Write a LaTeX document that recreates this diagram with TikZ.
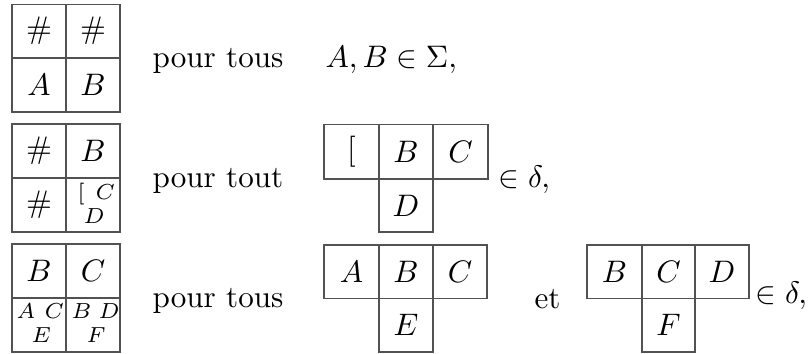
\documentclass[tikz,border=0pt]{standalone}
\begin{document}
\begin{tikzpicture}[x=0.3215pt,y=-0.3215pt,
  grid/.style={draw=black!68,line width=0.45pt},
  lab/.style={inner sep=0pt},
  txt/.style={inner sep=0pt,anchor=base west},
  sm/.style={inner sep=0pt,anchor=base west,font=\scriptsize}]
\useasboundingbox (0,0) rectangle (811,353);
% tile 1
\draw[grid] (12,4.5) rectangle (120,112);
\draw[grid] (66,4.5) -- (66,112) (12,58) -- (120,58);
\node[lab] (t1a) at (39,31) {$\#$};
\node[lab] (t1b) at (93,31) {$\#$};
\node[lab] (t1c) at (39,85) {$A$};
\node[lab] (t1d) at (93,85) {$B$};
\node[txt] (p1) at (152,67) {pour tous};
\node[txt] (m1) at (325,67) {$A,B \in \Sigma,$};
% tile 2
\draw[grid] (12,124) rectangle (120,232);
\draw[grid] (66,124) -- (66,232) (12,178) -- (120,178);
\node[lab] (t2a) at (39,151) {$\#$};
\node[lab] (t2b) at (93,151) {$B$};
\node[lab] (t2c) at (39,205) {$\#$};
\node[sm] (t2d) at (77,199) {$[$};
\node[sm] (t2e) at (95,199) {$C$};
\node[sm] (t2f) at (83,223) {$D$};
\node[txt] (p2) at (152,187) {pour tout};
\draw[grid] (324,124.5) rectangle (488,179);
\draw[grid] (379,124.5) -- (379,232) -- (433,232) -- (433,124.5);
\node[lab] (s2a) at (351.5,152) {$[$};
\node[lab] (s2b) at (406,152) {$B$};
\node[lab] (s2c) at (460.5,152) {$C$};
\node[lab] (s2d) at (406,205.5) {$D$};
\node[txt] (m2) at (498,187) {$\in \delta,$};
% tile 3
\draw[grid] (12,244) rectangle (120,352);
\draw[grid] (66,244) -- (66,352) (12,298) -- (120,298);
\node[lab] (t3a) at (39,271) {$B$};
\node[lab] (t3b) at (93,271) {$C$};
\node[sm] (t3c) at (16,318) {$A$};
\node[sm] (t3d) at (44,318) {$C$};
\node[sm] (t3e) at (31,342) {$E$};
\node[sm] (t3f) at (71,318) {$B$};
\node[sm] (t3g) at (98,318) {$D$};
\node[sm] (t3h) at (86,342) {$F$};
\node[txt] (p3) at (152,307) {pour tous};
\draw[grid] (324,245) rectangle (487,298.5);
\draw[grid] (379,245) -- (379,352) -- (433,352) -- (433,245);
\node[lab] (s3a) at (351.5,271.5) {$A$};
\node[lab] (s3b) at (406,271.5) {$B$};
\node[lab] (s3c) at (460,271.5) {$C$};
\node[lab] (s3d) at (406,325) {$E$};
\node[txt] (et) at (534,308) {et};
\draw[grid] (587,245) rectangle (749,298.5);
\draw[grid] (642,245) -- (642,352) -- (695,352) -- (695,245);
\node[lab] (s4a) at (614.5,271.5) {$B$};
\node[lab] (s4b) at (668.5,271.5) {$C$};
\node[lab] (s4c) at (722,271.5) {$D$};
\node[lab] (s4d) at (668.5,325) {$F$};
\node[txt] (m3) at (755,303) {$\in \delta,$};
\end{tikzpicture}
\end{document}
